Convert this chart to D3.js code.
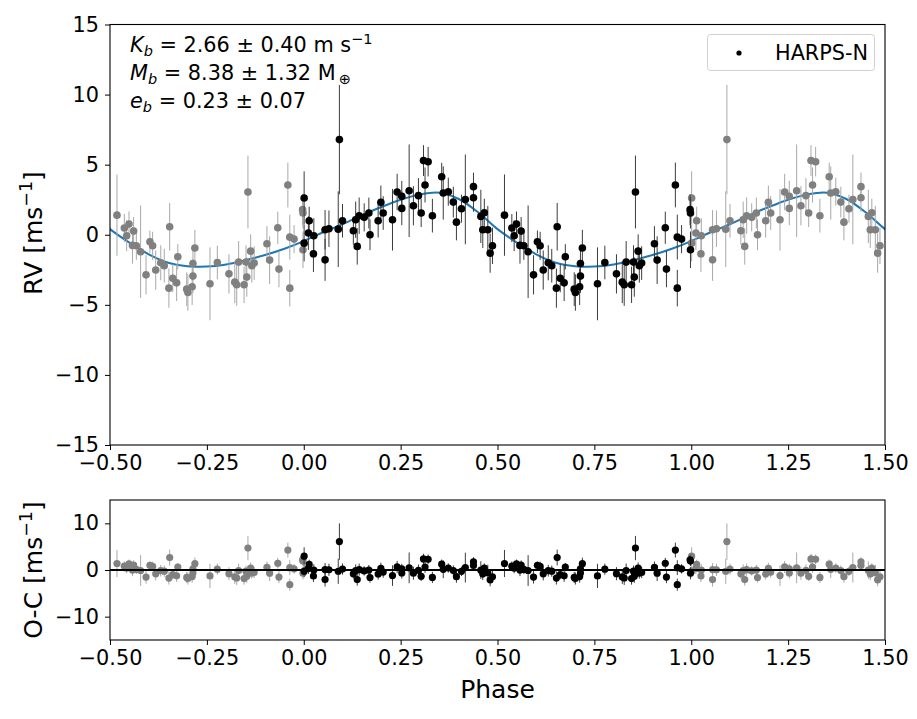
<!DOCTYPE html>
<html>
<head>
<meta charset="utf-8">
<script src="https://cdn.jsdelivr.net/npm/d3@7"></script>
<style>
body { margin: 0; background: #fff; }
text { font-family: "DejaVu Sans", sans-serif; }
</style>
</head>
<body>
<div id="plotDiv"></div>
<script>
// --- Data (HARPS-N, phase folded) ---
const phase = [0.001,0.014,0.012,0.001,0.026,0.025,0.055,0.055,0.065,0.089,0.092,0.100,0.128,0.134,0.138,0.143,0.156,0.171,0.168,0.192,0.199,0.205,0.229,0.241,0.253,0.253,
  0.272,0.283,0.296,0.303,0.309,0.321,0.313,0.332,0.356,0.360,0.373,0.386,0.394,0.407,0.417,0.438,0.438,0.457,0.466,0.462,0.475,0.481,0.487,0.518,
  0.537,0.543,0.549,0.561,0.558,0.568,0.579,0.593,0.603,0.610,0.618,0.631,0.640,0.654,0.652,0.662,0.672,0.675,0.698,0.701,0.712,0.714,0.714,0.719,0.758,0.777,
  0.807,0.822,0.827,0.832,0.846,0.853,0.851,0.856,0.863,0.866,0.872,0.905,0.912,0.933,0.936,0.959,0.964,0.964,0.975,0.997,0.998,0.998];
const rv = [2.62,1.00,0.12,-0.60,-0.07,-1.36,-1.79,0.36,0.43,0.40,6.79,1.00,0.29,1.07,-0.83,1.36,1.24,0.00,1.55,1.00,2.31,1.55,1.07,3.05,2.74,1.88,
  3.14,2.07,2.79,1.55,5.29,5.21,3.55,1.36,4.14,2.98,3.07,2.33,0.90,1.86,2.52,3.43,2.64,1.31,1.57,0.36,0.36,-1.31,-0.79,1.40,
  0.48,-0.07,0.76,0.26,-0.76,-0.79,-1.21,-2.86,-0.50,-0.79,-2.52,-2.00,-2.21,0.57,-3.81,-3.10,-3.43,-1.57,-3.88,-4.12,-3.71,-2.95,-2.05,-0.95,-3.50,-1.98,
  -2.79,-3.38,-3.57,-1.95,-3.57,-3.02,-1.95,3.05,-1.17,-2.21,-2.02,-0.64,-1.81,0.50,-2.45,3.55,-3.81,-0.17,-0.31,1.79,1.55,-1.07];
const rvErr = [1.9,1.0,1.2,1.3,1.25,1.3,1.5,1.4,1.3,2.7,3.9,1.2,1.0,1.3,1.3,1.3,1.0,1.1,1.1,1.2,1.2,1.2,2.2,1.3,1.1,1.2,
  3.3,1.4,1.25,1.0,1.1,1.05,1.25,1.2,1.0,1.9,1.0,1.1,1.3,1.0,3.2,1.0,1.0,1.9,1.0,1.3,1.7,1.4,1.3,2.9,
  1.0,1.1,0.9,1.0,1.3,1.0,3.3,1.4,0.8,1.0,1.4,1.25,1.2,1.7,1.4,1.0,1.3,0.9,1.2,1.3,1.3,1.2,1.2,1.3,2.6,1.2,
  1.4,1.5,1.5,1.5,1.3,1.4,1.2,2.6,1.2,1.2,1.2,1.25,1.7,1.15,1.3,1.6,1.3,1.6,1.0,1.1,1.1,1.3];
const resid = [2.96,1.20,0.34,-0.26,-0.01,-1.29,-2.05,0.10,0.05,-0.27,6.09,0.20,-0.82,-0.11,-2.06,0.08,-0.19,-1.61,-0.02,-0.86,0.37,-0.45,-1.20,0.65,0.22,-0.64,
  0.46,-0.69,-0.08,-1.35,2.38,2.28,0.63,-1.59,1.25,0.15,0.43,-0.12,-1.43,-0.29,0.52,1.75,0.96,-0.03,0.43,-0.87,-0.57,-2.10,-1.45,1.39,
  0.83,0.40,1.34,1.05,-0.02,0.12,-0.11,-1.51,1.01,0.80,-0.83,-0.15,-0.25,2.67,-1.72,-0.97,-1.25,0.62,-1.59,-1.82,-1.41,-0.65,0.25,1.35,-1.27,0.17,
  -0.79,-1.48,-1.71,-0.12,-1.84,-1.34,-0.26,4.70,0.41,-0.65,-0.52,0.57,-0.67,1.45,-1.52,4.27,-3.14,0.50,0.26,2.17,1.92,-0.70];

// Keplerian model, one period
const modelPhase = [0,0.05,0.10,0.15,0.20,0.25,0.30,0.35,0.40,0.45,0.50,0.55,0.60,0.65,0.70,0.75,0.80,0.85,0.90,0.95,1.00];
const modelRV = [-0.45,0.18,0.75,1.40,1.98,2.50,2.88,3.00,2.55,1.60,0.40,-0.56,-1.40,-2.00,-2.24,-2.27,-2.12,-1.82,-1.45,-1.00,-0.45];

// ticks
const xTicks = [-0.5,-0.25,0,0.25,0.5,0.75,1.0,1.25,1.5];
const rvTicks = [-15,-10,-5,0,5,10,15];
const ocTicks = [-10,0,10];

/* --- Definitions --- */
const width = 917, height = 719;
const left = 110, right = 885;
const top1 = 24.5, bot1 = 445, top2 = 500, bot2 = 640;
const fs = 20.8;

const svg = d3.select("#plotDiv").append("svg")
  .attr("width", width).attr("height", height);

const x = d3.scaleLinear().domain([-0.5, 1.5]).range([left, right]);
const yRV = d3.scaleLinear().domain([-15, 15]).range([bot1, top1]);
const yOC = d3.scaleLinear().domain([-15, 15]).range([bot2, top2]);

const pts = phase.map((p, i) => ({p: p, rv: rv[i], err: rvErr[i], oc: resid[i]}));
// copies folded one period away (grey)
const copies = pts.map(d => Object.assign({}, d, {p: d.p >= 0.5 ? d.p - 1 : d.p + 1}));

const modelPts = [];
[-1, 0, 1].forEach(k => {
  modelPhase.forEach((p, i) => {
    if (k < 1 && i === modelPhase.length - 1) return;
    modelPts.push({p: p + k, v: modelRV[i]});
  });
});

// --- clip paths ---
const defs = svg.append("defs");
defs.append("clipPath").attr("id", "clip1").append("rect")
  .attr("x", left).attr("y", top1).attr("width", right - left).attr("height", bot1 - top1);
defs.append("clipPath").attr("id", "clip2").append("rect")
  .attr("x", left).attr("y", top2).attr("width", right - left).attr("height", bot2 - top2);

function drawPoints(g, data, y, key, color, barColor, r) {
  g.append("g").selectAll("line")
    .data(data)
    .join("line")
    .attr("x1", d => x(d.p)).attr("x2", d => x(d.p))
    .attr("y1", d => y(d[key] - d.err)).attr("y2", d => y(d[key] + d.err))
    .attr("stroke", barColor).attr("stroke-width", 1);
  g.append("g").selectAll("circle")
    .data(data)
    .join("circle")
    .attr("cx", d => x(d.p)).attr("cy", d => y(d[key]))
    .attr("r", r).attr("fill", color);
}

function styleAxis(g) {
  g.select(".domain").remove();
  g.selectAll(".tick line").attr("stroke", "#000").attr("stroke-width", 1);
  g.selectAll(".tick text").attr("fill", "#000").attr("font-size", fs + "px")
    .attr("font-family", "DejaVu Sans, sans-serif");
}

// --- Top panel ---
const p1 = svg.append("g").attr("clip-path", "url(#clip1)");
p1.append("path")
  .datum(modelPts)
  .attr("d", d3.line().x(d => x(d.p)).y(d => yRV(d.v)).curve(d3.curveCatmullRom.alpha(0.5)))
  .attr("fill", "none").attr("stroke", "#1f77b4").attr("stroke-width", 2);
drawPoints(p1, copies, yRV, "rv", "#808080", "#a8a8a8", 3.8);
drawPoints(p1, pts, yRV, "rv", "#000", "#3c3c3c", 3.8);

svg.append("g").attr("transform", `translate(0,${bot1})`)
  .call(d3.axisBottom(x).tickValues(xTicks).tickFormat(d3.format(".2f")).tickSize(5).tickPadding(5))
  .call(styleAxis);
svg.append("g").attr("transform", `translate(${left},0)`)
  .call(d3.axisLeft(yRV).tickValues(rvTicks).tickFormat(d3.format("d")).tickSize(5).tickPadding(6))
  .call(styleAxis);
svg.append("rect").attr("x", left).attr("y", top1).attr("width", right - left).attr("height", bot1 - top1)
  .attr("fill", "none").attr("stroke", "#000").attr("stroke-width", 1.1);

// --- Bottom panel ---
const p2 = svg.append("g").attr("clip-path", "url(#clip2)");
drawPoints(p2, copies, yOC, "oc", "#808080", "#a8a8a8", 3.6);
drawPoints(p2, pts, yOC, "oc", "#000", "#3c3c3c", 3.6);
p2.append("line")
  .attr("x1", left).attr("x2", right).attr("y1", yOC(0)).attr("y2", yOC(0))
  .attr("stroke", "#000").attr("stroke-width", 2);

svg.append("g").attr("transform", `translate(0,${bot2})`)
  .call(d3.axisBottom(x).tickValues(xTicks).tickFormat(d3.format(".2f")).tickSize(5).tickPadding(5))
  .call(styleAxis);
svg.append("g").attr("transform", `translate(${left},0)`)
  .call(d3.axisLeft(yOC).tickValues(ocTicks).tickFormat(d3.format("d")).tickSize(5).tickPadding(6))
  .call(styleAxis);
svg.append("rect").attr("x", left).attr("y", top2).attr("width", right - left).attr("height", bot2 - top2)
  .attr("fill", "none").attr("stroke", "#000").attr("stroke-width", 1.1);

// --- Axis labels ---
function unitLabel(cx, cy, txt) {
  const t = svg.append("text")
    .attr("transform", `translate(${cx},${cy}) rotate(-90)`)
    .attr("text-anchor", "middle").attr("font-size", "25px");
  t.append("tspan").text(txt + " [ms");
  t.append("tspan").attr("dy", -10).attr("font-size", "17.5px").text("\u22121");
  t.append("tspan").attr("dy", 10).text("]");
}
unitLabel(42, 233, "RV");
unitLabel(42, 570, "O-C");

svg.append("text").attr("x", (left + right) / 2).attr("y", 698)
  .attr("text-anchor", "middle").attr("font-size", "25px").text("Phase");

// --- Parameter annotation ---
const sub = 0.7 * fs;
function paramLine(y, sym, rest, extra) {
  const t = svg.append("text").attr("x", 130).attr("y", y).attr("font-size", fs + "px");
  t.append("tspan").attr("font-style", "italic").text(sym);
  t.append("tspan").attr("font-style", "italic").attr("font-size", sub + "px").attr("dy", 4).text("b");
  t.append("tspan").attr("dy", -4).text(rest);
  if (extra) extra(t);
}
paramLine(52, "K", " = 2.66 \u00b1 0.40 m s", t => {
  t.append("tspan").attr("dy", -8).attr("font-size", sub + "px").text("\u22121");
});
paramLine(80, "M", " = 8.38 \u00b1 1.32 M", t => {
  t.append("tspan").attr("dy", 4).attr("dx", 3).attr("font-size", sub + "px").text("\u2295");
});
paramLine(107.5, "e", " = 0.23 \u00b1 0.07");

// --- Legend ---
const lg = svg.append("g");
lg.append("rect").attr("x", 707.5).attr("y", 34.5).attr("width", 167).attr("height", 36)
  .attr("rx", 3).attr("fill", "#fff").attr("fill-opacity", 0.8)
  .attr("stroke", "#d0d0d0").attr("stroke-width", 1);
lg.append("circle").attr("cx", 739).attr("cy", 53).attr("r", 2.6).attr("fill", "#000");
lg.append("text").attr("x", 775).attr("y", 59.5).attr("font-size", fs + "px").text("HARPS-N");
</script>
</body>
</html>
